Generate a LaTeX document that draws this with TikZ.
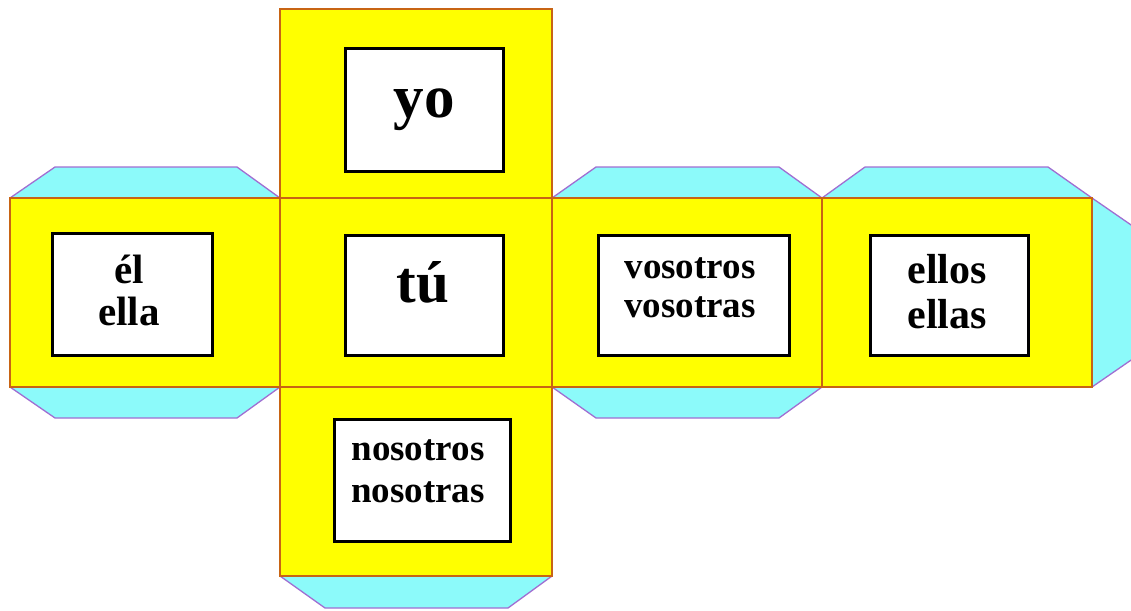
\documentclass[tikz,border=0pt]{standalone}
\usepackage{fontspec}
\setmainfont{Liberation Serif}
\usepackage{xcolor}
\usepackage{tikz}

\definecolor{netyellow}{RGB}{255,255,0}
\definecolor{faceedge}{RGB}{200,100,20}
\definecolor{tabcyan}{RGB}{140,250,250}
\definecolor{tabedge}{RGB}{160,110,210}

\begin{document}
\begin{tikzpicture}[x=1pt,y=-1pt,
  face/.style={fill=netyellow,draw=faceedge,line width=2pt},
  tab/.style={fill=tabcyan,draw=tabedge,line width=1.3pt,line join=round},
  card/.style={draw=black,fill=white,line width=3pt,inner sep=0pt},
  word/.style={font=\bfseries,align=center,anchor=base,inner sep=0pt}]
  \useasboundingbox (0,0) rectangle (1131,610);
  % glue tabs
  \draw[tab] (10,198) -- (55,167) -- (237,167) -- (280,198);
  \draw[tab] (10,387) -- (55,418) -- (237,418) -- (280,387);
  \draw[tab] (552,198) -- (596,167) -- (779,167) -- (822,198);
  \draw[tab] (552,387) -- (596,418) -- (779,418) -- (822,387);
  \draw[tab] (822,198) -- (865,167) -- (1048,167) -- (1092,198);
  \draw[tab] (280,576) -- (325,608) -- (508,608) -- (552,576);
  \begin{scope}
    \clip (0,0) rectangle (1131,610);
    \draw[tab] (1092,198) -- (1150,238) -- (1150,347) -- (1092,387);
  \end{scope}
  % faces
  \draw[face] (280,9) rectangle (552,198);
  \draw[face] (10,198) rectangle (280,387);
  \draw[face] (280,198) rectangle (552,387);
  \draw[face] (552,198) rectangle (822,387);
  \draw[face] (822,198) rectangle (1092,387);
  \draw[face] (280,387) rectangle (552,576);
  % cards
  \node[card,minimum width=158pt,minimum height=123pt] (yocard) at (424.5,110) {};
  \node[card,minimum width=160pt,minimum height=122pt] (elcard) at (132.5,294.5) {};
  \node[card,minimum width=158pt,minimum height=120pt] (tucard) at (424.5,295.5) {};
  \node[card,minimum width=191pt,minimum height=120pt] (vosocard) at (694,295.5) {};
  \node[card,minimum width=158pt,minimum height=120pt] (elloscard) at (949.5,295.5) {};
  \node[card,minimum width=176pt,minimum height=122pt] (nosocard) at (422.5,480.5) {};
  % words
  \node[word,font=\bfseries\fontsize{61}{66}\selectfont] (yo) at (424,117) {yo};
  \node[word,font=\bfseries\fontsize{59}{64}\selectfont] (tu) at (423,302) {tú};
  \node[word,font=\bfseries\fontsize{41}{42}\selectfont] (el) at (129,325) {él\\ella};
  \node[word,font=\bfseries\fontsize{37}{39}\selectfont] (voso) at (690,317) {vosotros\\vosotras};
  \node[word,font=\bfseries\fontsize{42}{45}\selectfont] (ellos) at (947,328) {ellos\\ellas};
  \node[word,font=\bfseries\fontsize{37}{42}\selectfont] (noso) at (418,502) {nosotros\\nosotras};
\end{tikzpicture}
\end{document}
